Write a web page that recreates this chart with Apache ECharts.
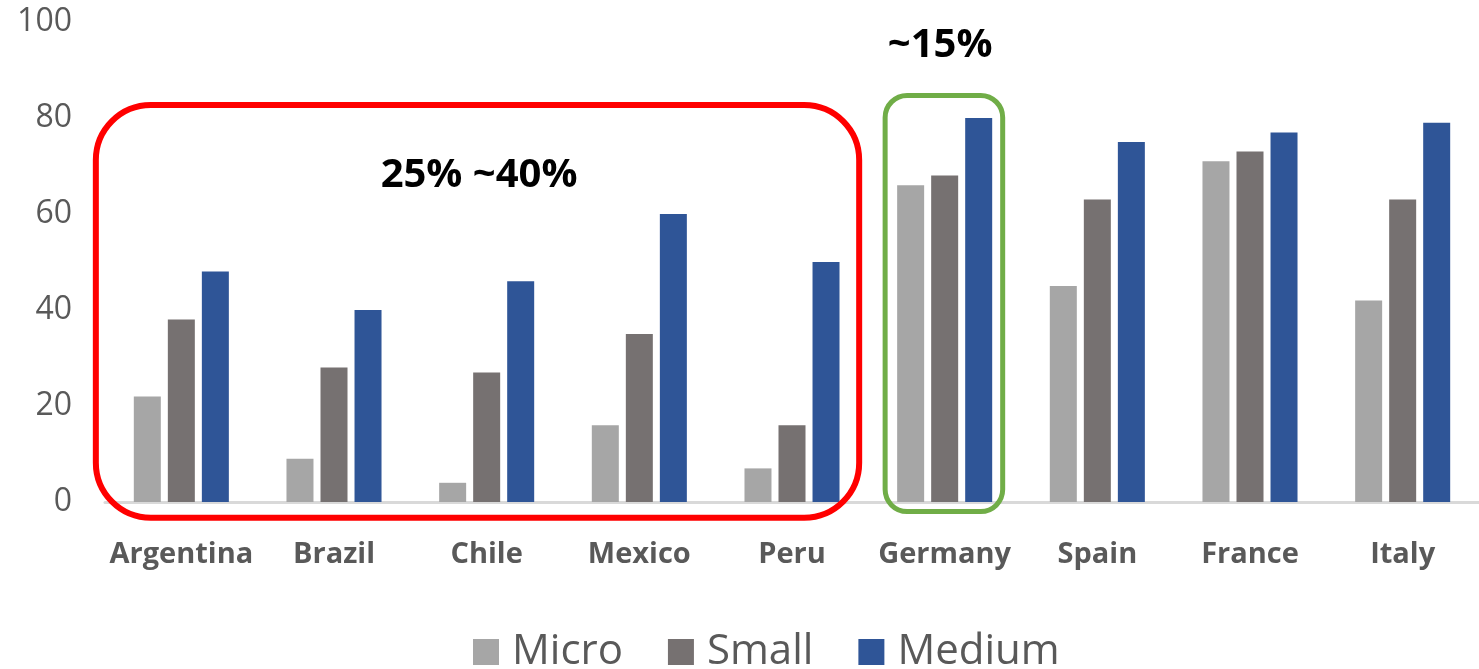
<!DOCTYPE html>
<html>
<head>
<meta charset="utf-8">
<script src="https://cdn.jsdelivr.net/npm/echarts@6/dist/echarts.min.js"></script>
<style>
  html, body { margin: 0; padding: 0; background: #ffffff; }
  #chart { width: 1479px; height: 669px; }
</style>
</head>
<body>
<div id="chart"></div>
<script>
// Share of firms by size and country
const countries = ['Argentina', 'Brazil', 'Chile', 'Mexico', 'Peru', 'Germany', 'Spain', 'France', 'Italy'];
const micro  = [22,  9,  4, 16,  7, 66, 45, 71, 42];
const small  = [38, 28, 27, 35, 16, 68, 63, 73, 63];
const medium = [48, 40, 46, 60, 50, 80, 75, 77, 79];
const seriesNames = ['Micro', 'Small', 'Medium'];
const yTicks = [0, 20, 40, 60, 80, 100];

const FONT = '"Open Sans", "Liberation Sans", sans-serif';
const colors = ['#a6a6a6', '#767171', '#2f5597'];

const chart = echarts.init(document.getElementById('chart'), null, { renderer: 'canvas' });

const option = {
  animation: false,
  backgroundColor: '#ffffff',
  grid: { left: 105, right: 0, top: 22, bottom: 167, containLabel: false },
  legend: {
    data: seriesNames,
    bottom: -9,
    left: 468,
    icon: 'rect',
    itemWidth: 26,
    itemHeight: 26,
    itemGap: 45,
    textStyle: { fontFamily: FONT, fontSize: 42, color: '#595959', padding: [0, 0, 0, 8] }
  },
  xAxis: {
    type: 'category',
    data: countries,
    axisLine: { lineStyle: { color: '#d9d9d9', width: 3 } },
    axisTick: { show: false },
    axisLabel: { interval: 0, fontFamily: FONT, fontSize: 29, fontWeight: 'bold', color: '#595959', margin: 38 }
  },
  yAxis: {
    type: 'value',
    min: yTicks[0],
    max: yTicks[yTicks.length - 1],
    interval: yTicks[1] - yTicks[0],
    axisLine: { show: false },
    axisTick: { show: false },
    splitLine: { show: false },
    axisLabel: { fontFamily: FONT, fontSize: 32, color: '#595959', margin: 33, padding: [6, 0, 0, 0] }
  },
  series: [micro, small, medium].map((vals, i) => ({
    name: seriesNames[i],
    type: 'bar',
    data: vals,
    barWidth: 27,
    barGap: '26%',
    itemStyle: { color: colors[i] }
  }))
};

chart.setOption(option);

// Highlight boxes and notes, placed in data coordinates
function toPx(cat, val) {
  const c0 = chart.convertToPixel({ gridIndex: 0 }, [0, 0]);
  const c1 = chart.convertToPixel({ gridIndex: 0 }, [1, 0]);
  const band = c1[0] - c0[0];
  const base = chart.convertToPixel({ gridIndex: 0 }, [Math.floor(cat), val]);
  return [base[0] + (cat - Math.floor(cat)) * band, base[1]];
}

function box(c0, c1, v0, v1, color, width, radius) {
  const a = toPx(c0, v1);
  const b = toPx(c1, v0);
  return {
    type: 'rect',
    z: 100,
    shape: { x: a[0], y: a[1], width: b[0] - a[0], height: b[1] - a[1], r: radius },
    style: { fill: 'none', stroke: color, lineWidth: width }
  };
}

function note(cat, val, text) {
  const p = toPx(cat, val);
  return {
    type: 'text',
    z: 100,
    x: p[0],
    y: p[1],
    style: {
      text: text,
      fill: '#000000',
      font: 'bold 40px ' + FONT,
      align: 'center',
      verticalAlign: 'middle'
    }
  };
}

chart.setOption({
  graphic: [
    box(-0.56, 4.44, -3.3, 82.7, '#ff0000', 6, 55),
    box(4.61, 5.38, -2, 84.7, '#70ad47', 5, 22),
    note(1.95, 68, '25% ~40%'),
    note(4.97, 95, '~15%')
  ]
});
</script>
</body>
</html>
